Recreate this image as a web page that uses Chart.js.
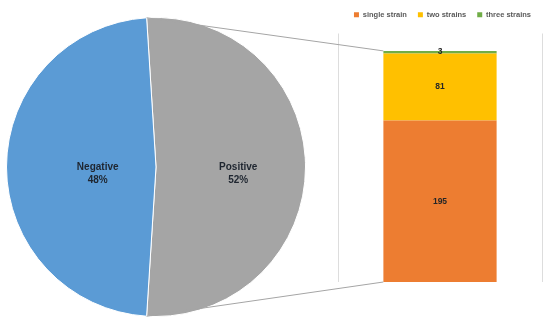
<!DOCTYPE html>
<html><head><meta charset="utf-8">
<script src="https://cdn.jsdelivr.net/npm/chart.js@4"></script>
<style>html,body{margin:0;padding:0;background:#fff;}
#wrap{position:relative;width:550px;height:327px;}
canvas{position:absolute;left:0;top:0;}
</style></head><body>
<div id="wrap"><canvas id="pie" width="550" height="327"></canvas><canvas id="bar" width="550" height="327"></canvas></div>
<script>
const pieLabels = ['Positive', 'Negative'];
const piePercents = [52, 48];
const barCategories = [''];
const singleStrain = [195];
const twoStrains = [81];
const threeStrains = [3];
const seriesNames = ['single strain', 'two strains', 'three strains'];

Chart.defaults.font.family = "'Liberation Sans', Arial, sans-serif";
Chart.defaults.animation = false;

const pieTotal = piePercents.reduce((a, b) => a + b, 0);

const pieLabelPlugin = {
  id: 'pieLabels',
  afterDatasetsDraw(chart) {
    const ctx = chart.ctx;
    const meta = chart.getDatasetMeta(0);
    const fracs = [0.55, 0.39];
    ctx.save();
    ctx.font = "bold 10px 'Liberation Sans', Arial";
    ctx.fillStyle = '#1f2630';
    ctx.textAlign = 'center';
    ctx.textBaseline = 'middle';
    meta.data.forEach((arc, i) => {
      const p = arc.getProps(['x', 'y', 'startAngle', 'endAngle', 'outerRadius'], true);
      const mid = (p.startAngle + p.endAngle) / 2;
      const r = p.outerRadius * fracs[i];
      const cx = p.x + Math.cos(mid) * r;
      const cy = p.y + Math.sin(mid) * r;
      ctx.fillText(chart.data.labels[i], cx, cy);
      ctx.fillText(chart.data.datasets[0].data[i] + '%', cx, cy + 13);
    });
    ctx.restore();
  }
};

const pieChart = new Chart(document.getElementById('pie'), {
  type: 'pie',
  data: {
    labels: pieLabels,
    datasets: [{
      data: piePercents,
      backgroundColor: ['#A5A5A5', '#5B9BD5'],
      borderColor: '#ffffff',
      borderWidth: 1
    }]
  },
  options: {
    responsive: false,
    rotation: 90 - (piePercents[0] / pieTotal) * 180,
    layout: { padding: { left: 6, right: 244, top: 17, bottom: 10 } },
    plugins: { legend: { display: false }, tooltip: { enabled: false } }
  },
  plugins: [pieLabelPlugin]
});

const barLabelPlugin = {
  id: 'barLabels',
  afterDatasetsDraw(chart) {
    const ctx = chart.ctx;
    ctx.save();
    ctx.font = "bold 8.5px 'Liberation Sans', Arial";
    ctx.fillStyle = '#262626';
    ctx.textAlign = 'center';
    ctx.textBaseline = 'middle';
    chart.data.datasets.forEach((ds, di) => {
      chart.getDatasetMeta(di).data.forEach((el, i) => {
        const p = el.getProps(['x', 'y', 'base'], true);
        ctx.fillText(String(ds.data[i]), p.x, (p.y + p.base) / 2);
      });
    });
    ctx.restore();
  }
};

const connectorPlugin = {
  id: 'connectors',
  afterDraw(chart) {
    const ctx = chart.ctx;
    const arc = pieChart.getDatasetMeta(0).data[0];
    const a = arc.getProps(['x', 'y', 'startAngle', 'endAngle', 'outerRadius'], true);
    const topEl = chart.getDatasetMeta(chart.data.datasets.length - 1).data[0].getProps(['x', 'y', 'width'], true);
    const botEl = chart.getDatasetMeta(0).data[0].getProps(['x', 'base', 'width'], true);
    const p1 = [a.x + Math.cos(a.startAngle) * a.outerRadius, a.y + Math.sin(a.startAngle) * a.outerRadius];
    const p2 = [a.x + Math.cos(a.endAngle) * a.outerRadius, a.y + Math.sin(a.endAngle) * a.outerRadius];
    ctx.save();
    ctx.strokeStyle = '#A5A5A5';
    ctx.lineWidth = 1;
    ctx.beginPath();
    ctx.moveTo(p1[0], p1[1]);
    ctx.lineTo(topEl.x - topEl.width / 2, topEl.y);
    ctx.moveTo(p2[0], p2[1]);
    ctx.lineTo(botEl.x - botEl.width / 2, botEl.base);
    ctx.stroke();
    ctx.restore();
  }
};

const barChart = new Chart(document.getElementById('bar'), {
  type: 'bar',
  data: {
    labels: barCategories,
    datasets: [
      { label: seriesNames[0], data: singleStrain, backgroundColor: '#ED7D31' },
      { label: seriesNames[1], data: twoStrains, backgroundColor: '#FFC000' },
      { label: seriesNames[2], data: threeStrains, backgroundColor: '#70AD47' }
    ]
  },
  options: {
    responsive: false,
    layout: { padding: { left: 301, right: 8, top: 0, bottom: 45 } },
    datasets: { bar: { categoryPercentage: 1, barPercentage: 0.555 } },
    scales: {
      x: {
        stacked: true,
        offset: true,
        grid: { display: true, offset: true, color: '#DDDDDD', drawTicks: false },
        border: { display: false },
        ticks: { display: false }
      },
      xTop: {
        type: 'category',
        position: 'top',
        grid: { display: false },
        border: { display: false },
        ticks: { display: false },
        afterFit(s) { s.height = 5; }
      },
      y: {
        stacked: true, min: 0, max: 300,
        grid: { display: false },
        border: { display: false },
        ticks: { display: false },
        afterFit(s) { s.width = 37; }
      }
    },
    plugins: {
      tooltip: { enabled: false },
      legend: {
        position: 'top',
        align: 'end',
        labels: {
          boxWidth: 5, boxHeight: 5, padding: 11,
          color: '#595959',
          font: { size: 7.5, weight: 'bold' }
        }
      }
    }
  },
  plugins: [barLabelPlugin, connectorPlugin]
});
</script>
</body></html>
